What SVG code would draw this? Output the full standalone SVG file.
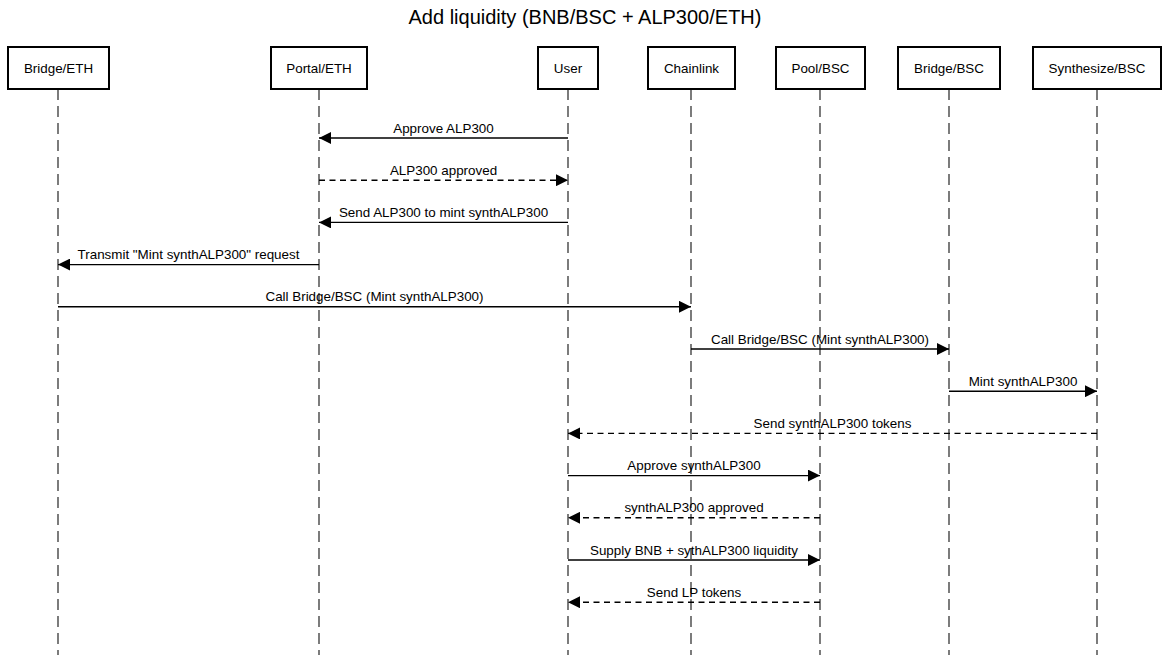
<svg xmlns="http://www.w3.org/2000/svg" width="1169" height="655" viewBox="0 0 1169 655">
<defs>
<marker id="ah" viewBox="0 0 12 12" refX="12" refY="6" markerWidth="12" markerHeight="12" markerUnits="userSpaceOnUse" orient="auto">
<path d="M0,0 L12,6 L0,12 z" fill="#000"/>
</marker>
<style>
.box{fill:#fff;stroke:#000;stroke-width:2}
.lbl{font-family:"Liberation Sans",Arial,sans-serif;font-size:13.4px;fill:#000;text-anchor:middle}
.life{stroke:#111;stroke-width:1.1;stroke-dasharray:11 6}
.msg{stroke:#000;stroke-width:1.4;fill:none;marker-end:url(#ah)}
.dash{stroke-dasharray:6 4.5}
.title{font-family:"Liberation Sans",Arial,sans-serif;font-size:20px;fill:#000;text-anchor:middle}
</style>
</defs>
<rect width="1169" height="655" fill="#fff"/>
<text class="title" x="585" y="24">Add liquidity (BNB/BSC + ALP300/ETH)</text>
<g id="lifelines">
<line class="life" x1="58" y1="89" x2="58" y2="655"/>
<line class="life" x1="319" y1="89" x2="319" y2="655"/>
<line class="life" x1="568" y1="89" x2="568" y2="655"/>
<line class="life" x1="691" y1="89" x2="691" y2="655"/>
<line class="life" x1="820" y1="89" x2="820" y2="655"/>
<line class="life" x1="949" y1="89" x2="949" y2="655"/>
<line class="life" x1="1097" y1="89" x2="1097" y2="655"/>
</g>
<g id="bridge-eth"><rect class="box" x="8" y="47" width="101" height="42"/><text class="lbl" x="58.5" y="72.5">Bridge/ETH</text></g>
<g id="portal-eth"><rect class="box" x="271" y="47" width="96" height="42"/><text class="lbl" x="319" y="72.5">Portal/ETH</text></g>
<g id="user"><rect class="box" x="538" y="47" width="60" height="42"/><text class="lbl" x="568" y="72.5">User</text></g>
<g id="chainlink"><rect class="box" x="648" y="47" width="87" height="42"/><text class="lbl" x="691.5" y="72.5">Chainlink</text></g>
<g id="pool-bsc"><rect class="box" x="776" y="47" width="89" height="42"/><text class="lbl" x="820.5" y="72.5">Pool/BSC</text></g>
<g id="bridge-bsc"><rect class="box" x="898" y="47" width="102" height="42"/><text class="lbl" x="949" y="72.5">Bridge/BSC</text></g>
<g id="synthesize-bsc"><rect class="box" x="1033" y="47" width="128" height="42"/><text class="lbl" x="1097" y="72.5">Synthesize/BSC</text></g>
<g id="connectors">
<line class="msg" x1="568" y1="138" x2="319" y2="138"/>
<text class="lbl" x="443.5" y="132.5">Approve ALP300</text>
<line class="msg dash" x1="319" y1="180.2" x2="568" y2="180.2"/>
<text class="lbl" x="443.5" y="174.7">ALP300 approved</text>
<line class="msg" x1="568" y1="222.4" x2="319" y2="222.4"/>
<text class="lbl" x="443.5" y="216.9">Send ALP300 to mint synthALP300</text>
<line class="msg" x1="319" y1="264.6" x2="58" y2="264.6"/>
<text class="lbl" x="188.5" y="259.1">Transmit "Mint synthALP300" request</text>
<line class="msg" x1="58" y1="306.8" x2="691" y2="306.8"/>
<text class="lbl" x="374.5" y="301.3">Call Bridge/BSC (Mint synthALP300)</text>
<line class="msg" x1="691" y1="349" x2="949" y2="349"/>
<text class="lbl" x="820" y="343.5">Call Bridge/BSC (Mint synthALP300)</text>
<line class="msg" x1="949" y1="391.2" x2="1097" y2="391.2"/>
<text class="lbl" x="1023" y="385.7">Mint synthALP300</text>
<line class="msg dash" x1="1097" y1="433.4" x2="568" y2="433.4"/>
<text class="lbl" x="832.5" y="427.9">Send synthALP300 tokens</text>
<line class="msg" x1="568" y1="475.6" x2="820" y2="475.6"/>
<text class="lbl" x="694" y="470.1">Approve synthALP300</text>
<line class="msg dash" x1="820" y1="517.8" x2="568" y2="517.8"/>
<text class="lbl" x="694" y="512.3">synthALP300 approved</text>
<line class="msg" x1="568" y1="560" x2="820" y2="560"/>
<text class="lbl" x="694" y="554.5">Supply BNB + sythALP300 liquidity</text>
<line class="msg dash" x1="820" y1="602.2" x2="568" y2="602.2"/>
<text class="lbl" x="694" y="596.7">Send LP tokens</text>
</g>
</svg>
